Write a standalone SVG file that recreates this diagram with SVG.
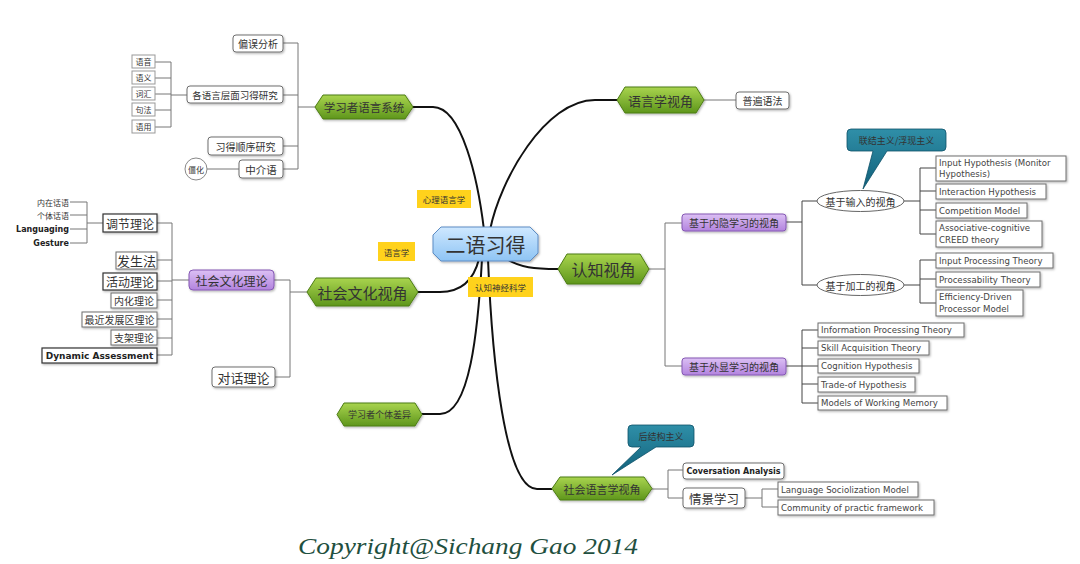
<svg xmlns="http://www.w3.org/2000/svg" width="1080" height="564" viewBox="0 0 1080 564">
<defs>
<linearGradient id="gGreen" x1="0" y1="0" x2="0" y2="1"><stop offset="0" stop-color="#a9d44e"/><stop offset="1" stop-color="#5e961c"/></linearGradient>
<linearGradient id="gPurple" x1="0" y1="0" x2="0" y2="1"><stop offset="0" stop-color="#dcc0f4"/><stop offset="1" stop-color="#b283de"/></linearGradient>
<linearGradient id="gBlue" x1="0" y1="0" x2="0" y2="1"><stop offset="0" stop-color="#cfe8ff"/><stop offset="1" stop-color="#8ec4f4"/></linearGradient>
<linearGradient id="gTeal" x1="0" y1="0" x2="0" y2="1"><stop offset="0" stop-color="#2f8fa8"/><stop offset="1" stop-color="#11607a"/></linearGradient>
<filter id="sh" x="-10%" y="-20%" width="130%" height="150%"><feDropShadow dx="1" dy="1.2" stdDeviation="0.8" flood-color="#000" flood-opacity="0.3"/></filter>
</defs>
<style>
.hex{fill:url(#gGreen);stroke:#4d7d14;stroke-width:1;filter:url(#sh)}
.pur{fill:url(#gPurple);stroke:#8558b4;stroke-width:1;filter:url(#sh)}
.box{fill:#fff;stroke:#6e6e6e;stroke-width:1;filter:url(#sh)}
.boxd{fill:#fff;stroke:#333;stroke-width:1.2;filter:url(#sh)}
.sm{fill:#fff;stroke:#999;stroke-width:1}
.yel{fill:#ffd21c}
.teal{fill:url(#gTeal);stroke:#0d5068;stroke-width:0.8}
.cn{font-family:"Noto Sans CJK SC","Noto Sans",sans-serif;fill:#333;text-anchor:middle;dominant-baseline:central}
.en{font-family:"DejaVu Sans",Verdana,sans-serif;fill:#444;font-size:8.6px;dominant-baseline:central}
.enb{font-family:"DejaVu Sans",Verdana,sans-serif;fill:#222;font-weight:bold;dominant-baseline:central}
.main{fill:none;stroke:#111;stroke-width:2}
.ln{fill:none;stroke:#777;stroke-width:1}
.lnd{fill:none;stroke:#444;stroke-width:1}
</style>

<g id="connectors">
<path class="main" d="M413,107 L433,107 C462,107 478,180 484,230"/>
<path class="main" d="M617,100 L595,100 C545,100 500,180 490,230"/>
<path class="main" d="M505,258 C520,268 535,269 558,269"/>
<path class="main" d="M418,292 L440,292 C465,292 475,275 479,259"/>
<path class="main" d="M422,414 L440,414 C470,414 478,330 482,259"/>
<path class="main" d="M552,489 L537,489 C505,489 492,360 488,259"/>
<!-- learner language system -->
<path class="ln" d="M315,107 H298 M298,43 V169 M283,43 H298 M283,95 H298 M283,146 H298 M283,169 H298 M207,169 H239"/>
<path class="ln" d="M187,95 H171 M171,62 V127 M155,62 H171 M155,78 H171 M155,94 H171 M155,110 H171 M155,127 H171"/>
<!-- sociocultural -->
<path class="ln" d="M307,292 H290 M290,280 V377 M274,280 H290 M275,377 H290"/>
<path class="ln" d="M189,280 H172 M172,223 V355 M157,223 H172 M157,260 H172 M157,281 H172 M157,300 H172 M157,319 H172 M157,338 H172 M157,355 H172"/>
<path class="ln" d="M103,223 H87 M87,202 V243 M70,202 H87 M70,215 H87 M70,229 H87 M70,243 H87"/>
<!-- linguistics -->
<path class="ln" d="M704,100 H736"/>
<!-- cognitive -->
<path class="ln" d="M649,269 H665 M665,223 V366 M665,223 H682 M665,366 H682"/>
<path class="lnd" d="M786,222 H802 M802,201 V285 M802,201 H817 M802,285 H817"/>
<path class="lnd" d="M904,201 H920 M920,168 V234 M920,168 H936 M920,191 H936 M920,210 H936 M920,234 H936"/>
<path class="lnd" d="M904,285 H920 M920,260 V303 M920,260 H936 M920,279 H936 M920,303 H936"/>
<path class="lnd" d="M786,366 H802 M802,330 V403 M802,330 H818 M802,348 H818 M802,366 H818 M802,384 H818 M802,403 H818"/>
<!-- sociolinguistic -->
<path class="ln" d="M652,489 H668 M668,470 V498 M668,470 H683 M668,498 H683"/>
<path class="ln" d="M745,498 H762 M762,489 V507 M762,489 H778 M762,507 H778"/>
</g>

<g id="center"><polygon points="441,227 530,227 538,235 538,253 530,261 441,261 433,253 433,235" fill="url(#gBlue)" stroke="#5c8cc4" stroke-width="1" filter="url(#sh)"/><text class="cn" x="485.5" y="244" font-size="20" fill="#223">二语习得</text></g>

<g id="lab-psy"><rect class="yel" x="417" y="190" width="54" height="18"/><text class="cn" x="444" y="199" font-size="8.5" fill="#222">心理语言学</text></g>
<g id="lab-ling"><rect class="yel" x="378" y="242" width="37" height="19"/><text class="cn" x="396.5" y="251.5" font-size="8.5" fill="#222">语言学</text></g>
<g id="lab-neuro"><rect class="yel" x="468" y="277" width="65" height="20"/><text class="cn" x="500.5" y="287" font-size="8.5" fill="#222">认知神经科学</text></g>

<g id="b-learner"><polygon class="hex" points="323,95 405,95 413,107 405,119 323,119 315,107"/><text class="cn" x="364" y="107" font-size="11.5" fill="#1b1b1b">学习者语言系统</text></g>
<g id="b-linguistic"><polygon class="hex" points="625,87 696,87 704,100 696,113 625,113 617,100"/><text class="cn" x="660.5" y="100" font-size="13" fill="#1b1b1b">语言学视角</text></g>
<g id="b-cognitive"><polygon class="hex" points="567,254 640,254 649,269 640,284 567,284 558,269"/><text class="cn" x="603.5" y="269" font-size="16" fill="#1b1b1b">认知视角</text></g>
<g id="b-sociocult"><polygon class="hex" points="316,278 409,278 418,292 409,306 316,306 307,292"/><text class="cn" x="362.5" y="292" font-size="15" fill="#1b1b1b">社会文化视角</text></g>
<g id="b-individual"><polygon class="hex" points="344,403 415,403 422,414.5 415,426 344,426 337,414.5"/><text class="cn" x="379.5" y="414.5" font-size="9" fill="#1b1b1b">学习者个体差异</text></g>
<g id="b-socioling"><polygon class="hex" points="560,477 644,477 652,488.5 644,500 560,500 552,488.5"/><text class="cn" x="602" y="488.5" font-size="11" fill="#1b1b1b">社会语言学视角</text></g>

<g id="n-error"><rect class="box" x="233" y="35" width="50" height="17" rx="3"/><text class="cn" x="258" y="43.5" font-size="10">偏误分析</text></g>
<g id="n-levels"><rect class="box" x="187" y="86" width="96" height="17" rx="3"/><text class="cn" x="235" y="94.5" font-size="9.5">各语言层面习得研究</text></g>
<g id="n-order"><rect class="box" x="208" y="137" width="75" height="18" rx="3"/><text class="cn" x="245.5" y="146" font-size="10">习得顺序研究</text></g>
<g id="n-inter"><rect class="box" x="239" y="160" width="44" height="18" rx="3"/><text class="cn" x="261" y="169" font-size="10.5">中介语</text></g>
<g id="n-fossil"><circle cx="196" cy="169" r="11" fill="#fff" stroke="#888"/><text class="cn" x="196" y="169" font-size="8">僵化</text></g>
<g id="n-phon"><rect class="sm" x="132" y="55" width="23" height="13"/><text class="cn" x="143.5" y="61.5" font-size="8" fill="#666">语音</text></g>
<g id="n-sem"><rect class="sm" x="132" y="71" width="23" height="13"/><text class="cn" x="143.5" y="77.5" font-size="8" fill="#444">语义</text></g>
<g id="n-lex"><rect class="sm" x="132" y="87" width="23" height="13"/><text class="cn" x="143.5" y="93.5" font-size="8" fill="#444">词汇</text></g>
<g id="n-syn"><rect class="sm" x="132" y="103" width="23" height="13"/><text class="cn" x="143.5" y="109.5" font-size="8" fill="#444">句法</text></g>
<g id="n-prag"><rect class="sm" x="132" y="120" width="23" height="13"/><text class="cn" x="143.5" y="126.5" font-size="8" fill="#777">语用</text></g>

<g id="n-sct"><rect class="pur" x="189" y="270" width="85" height="20" rx="4"/><text class="cn" x="231.5" y="280" font-size="12" fill="#222">社会文化理论</text></g>
<g id="n-dialog"><rect class="box" x="212" y="367" width="63" height="20" rx="3"/><text class="cn" x="243.5" y="377" font-size="13">对话理论</text></g>
<g id="n-mediation"><rect class="boxd" x="103" y="214" width="54" height="18"/><text class="cn" x="130" y="223" font-size="12" fill="#222">调节理论</text></g>
<g id="n-genetic"><rect class="box" x="116" y="252" width="41" height="17"/><text class="cn" x="136.5" y="260.5" font-size="13" fill="#222">发生法</text></g>
<g id="n-activity"><rect class="boxd" x="103" y="273" width="54" height="17"/><text class="cn" x="130" y="281.5" font-size="12" fill="#222">活动理论</text></g>
<g id="n-internal"><rect class="box" x="111" y="293" width="46" height="15"/><text class="cn" x="134" y="300.5" font-size="10">内化理论</text></g>
<g id="n-zpd"><rect class="box" x="82" y="312" width="75" height="15"/><text class="cn" x="119.5" y="319.5" font-size="10">最近发展区理论</text></g>
<g id="n-scaffold"><rect class="box" x="111" y="330" width="46" height="15"/><text class="cn" x="134" y="337.5" font-size="10">支架理论</text></g>
<g id="n-da"><rect class="boxd" x="42" y="348" width="115" height="15"/><text class="enb" x="99.5" y="355.5" font-size="9" text-anchor="middle">Dynamic Assessment</text></g>
<g id="n-inner"><text class="cn" x="69" y="202" font-size="8" text-anchor="end" style="text-anchor:end">内在话语</text></g>
<g id="n-private"><text class="cn" x="69" y="215" font-size="8" style="text-anchor:end">个体话语</text></g>
<g id="n-languaging"><text class="enb" x="69" y="229" font-size="8" text-anchor="end">Languaging</text></g>
<g id="n-gesture"><text class="enb" x="69" y="243" font-size="8" text-anchor="end">Gesture</text></g>

<g id="n-ug"><rect class="box" x="736" y="92" width="53" height="17" rx="3"/><text class="cn" x="762.5" y="100.5" font-size="10">普遍语法</text></g>

<g id="n-implicit"><rect class="pur" x="682" y="214" width="104" height="17" rx="3"/><text class="cn" x="734" y="222.5" font-size="10" fill="#222">基于内隐学习的视角</text></g>
<g id="n-explicit"><rect class="pur" x="682" y="358" width="104" height="17" rx="3"/><text class="cn" x="734" y="366.5" font-size="10" fill="#222">基于外显学习的视角</text></g>
<g id="n-input"><ellipse cx="860.5" cy="201" rx="43.5" ry="10.5" fill="#fff" stroke="#666"/><text class="cn" x="860.5" y="201" font-size="10">基于输入的视角</text></g>
<g id="n-process"><ellipse cx="860.5" cy="285" rx="43.5" ry="10.5" fill="#fff" stroke="#666"/><text class="cn" x="860.5" y="285" font-size="10">基于加工的视角</text></g>
<g id="c-connect"><path class="teal" d="M851,129 H942 Q946,129 946,133 V147 Q946,151 942,151 H887 L863,189 L873,151 H851 Q847,151 847,147 V133 Q847,129 851,129 Z"/><text class="cn" x="896.5" y="140" font-size="9" fill="#fff">联结主义/浮现主义</text></g>
<g id="n-ih"><rect class="box" x="936" y="156" width="130" height="25"/><text class="en" x="939" y="162.5">Input Hypothesis (Monitor</text><text class="en" x="939" y="174">Hypothesis)</text></g>
<g id="n-inth"><rect class="box" x="936" y="184" width="110" height="15"/><text class="en" x="939" y="191.5">Interaction Hypothesis</text></g>
<g id="n-comp"><rect class="box" x="936" y="203" width="91" height="15"/><text class="en" x="939" y="210.5">Competition Model</text></g>
<g id="n-creed"><rect class="box" x="936" y="221" width="106" height="26"/><text class="en" x="939" y="228">Associative-cognitive</text><text class="en" x="939" y="239.5">CREED theory</text></g>
<g id="n-ipt"><rect class="box" x="936" y="253" width="117" height="15"/><text class="en" x="939" y="260.5">Input Processing Theory</text></g>
<g id="n-pt"><rect class="box" x="936" y="272" width="104" height="15"/><text class="en" x="939" y="279.5">Processability Theory</text></g>
<g id="n-edpm"><rect class="box" x="936" y="290" width="87" height="26"/><text class="en" x="939" y="297">Efficiency-Driven</text><text class="en" x="939" y="308.5">Processor Model</text></g>
<g id="n-info"><rect class="box" x="818" y="323" width="146" height="14"/><text class="en" x="821" y="330">Information Processing Theory</text></g>
<g id="n-skill"><rect class="box" x="818" y="341" width="111" height="14"/><text class="en" x="821" y="348">Skill Acquisition Theory</text></g>
<g id="n-cogh"><rect class="box" x="818" y="359" width="101" height="14"/><text class="en" x="821" y="366">Cognition Hypothesis</text></g>
<g id="n-trade"><rect class="box" x="818" y="377" width="97" height="15"/><text class="en" x="821" y="384.5">Trade-of Hypothesis</text></g>
<g id="n-wm"><rect class="box" x="818" y="396" width="129" height="14"/><text class="en" x="821" y="403">Models of Working Memory</text></g>

<g id="c-post"><path class="teal" d="M632,425 H690 Q694,425 694,429 V443 Q694,447 690,447 H656 L612,475 L641,447 H632 Q628,447 628,443 V429 Q628,425 632,425 Z"/><text class="cn" x="661" y="436" font-size="9" fill="#fff">后结构主义</text></g>
<g id="n-ca"><rect class="box" x="683" y="463" width="101" height="16" rx="3"/><text class="enb" x="733.5" y="471" font-size="8" text-anchor="middle">Coversation Analysis</text></g>
<g id="n-situated"><rect class="box" x="683" y="488" width="62" height="20" rx="3"/><text class="cn" x="714" y="498" font-size="12.5">情景学习</text></g>
<g id="n-lsm"><rect class="box" x="778" y="482" width="140" height="15"/><text class="en" x="781" y="489.5">Language Sociolization Model</text></g>
<g id="n-cop"><rect class="box" x="778" y="500" width="156" height="15"/><text class="en" x="781" y="507.5">Community of practic framework</text></g>

<g id="copyright"><text x="298" y="554" font-family="'Liberation Serif',serif" font-style="italic" font-size="24" fill="#1f5040" textLength="340" lengthAdjust="spacingAndGlyphs">Copyright@Sichang Gao 2014</text></g>
</svg>
